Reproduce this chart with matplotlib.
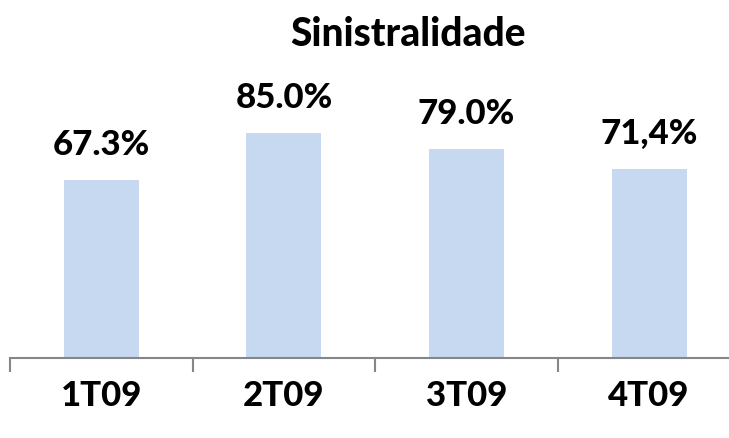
import matplotlib
matplotlib.use("Agg")
import matplotlib.pyplot as plt

categories = ["1T09", "2T09", "3T09", "4T09"]
values = [67.3, 85.0, 79.0, 71.4]
labels = ["67.3%", "85.0%", "79.0%", "71,4%"]
title = "Sinistralidade"

plt.rcParams['font.family'] = ['Lato', 'DejaVu Sans']

W, H = 729, 438
fig = plt.figure(figsize=(W / 100, H / 100), dpi=100)
left = 10 / W
width = 4 * 182.6 / W
bottom = (H - 358) / H
px_per_unit = (358 - 180) / 67.3
height = 100 * px_per_unit / H
ax = fig.add_axes([left, bottom, width, height])

x = range(len(categories))
ax.bar(x, values, width=0.41, color="#C6D9F1", zorder=2)
ax.set_xlim(-0.5, 3.5)
ax.set_ylim(0, 100)

for xi, v, lab in zip(x, values, labels):
    ax.annotate(lab, (xi, v), xytext=(0, 14), textcoords="offset points",
                ha="center", va="bottom", fontsize=25, fontweight="black", color="black")

for s in ["top", "right", "left"]:
    ax.spines[s].set_visible(False)
ax.spines["bottom"].set_color("#868686")
ax.spines["bottom"].set_linewidth(1.5)
ax.set_yticks([])
ax.set_xticks([-0.5, 0.5, 1.5, 2.5, 3.5])
ax.set_xticklabels([])
ax.set_xticks(list(x), minor=True)
ax.set_xticklabels(categories, minor=True, fontsize=25, fontweight="black")
ax.tick_params(axis="x", which="major", length=10, width=1.5, color="#868686", direction="out")
ax.tick_params(axis="x", which="minor", length=0, pad=16)

fig.text(408 / W, 1 - 35 / H, title, ha="center", va="center", fontsize=28, fontweight="black")

fig.savefig("out.png", dpi=100)
